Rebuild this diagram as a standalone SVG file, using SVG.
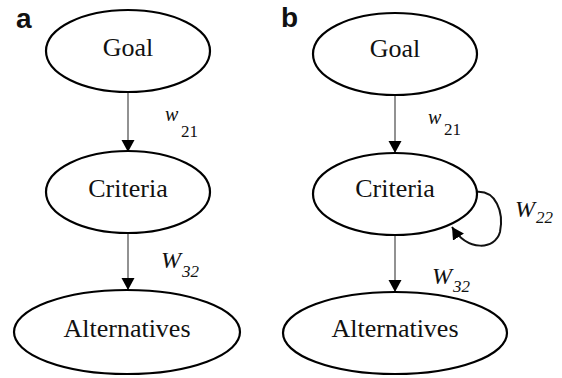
<svg xmlns="http://www.w3.org/2000/svg" width="562" height="378" viewBox="0 0 562 378">
<style>
.node ellipse{fill:#fff;stroke:#000;stroke-width:2.2}
.node text{font-family:"Liberation Serif","Times New Roman",serif;font-size:26px;text-anchor:middle;fill:#111}
.conn line,.conn path{stroke:#777;stroke-width:1.6;fill:none}
.conn path.loop{stroke:#111;stroke-width:2}
.lbl{font-family:"Liberation Serif","Times New Roman",serif;font-style:italic;fill:#111}
.sub{font-family:"Liberation Serif","Times New Roman",serif;font-style:normal;fill:#111}
.panel{font-family:"Liberation Sans",Arial,sans-serif;font-weight:bold;font-size:28px;fill:#111}
</style>
<defs>
<marker id="ah" markerWidth="14" markerHeight="14" refX="12" refY="6.5" orient="auto" markerUnits="userSpaceOnUse">
<path d="M0,0 L12,6.5 L0,13 Z" fill="#000"/>
</marker>
</defs>
<rect width="562" height="378" fill="#fff"/>
<text class="panel" x="16" y="28">a</text>
<text class="panel" x="281" y="27">b</text>
<g class="conn">
<line x1="128" y1="92" x2="128" y2="152" marker-end="url(#ah)"/>
<line x1="128" y1="233" x2="128" y2="290" marker-end="url(#ah)"/>
<line x1="395" y1="95" x2="395" y2="153" marker-end="url(#ah)"/>
<line x1="395" y1="235" x2="395" y2="292" marker-end="url(#ah)"/>
<path class="loop" d="M476 192 C496 190 504 212 500 232 C495 250 468 252 452 227" marker-end="url(#ah)"/>
</g>
<g id="goal-a" class="node"><ellipse cx="128" cy="51" rx="82" ry="41"/><text x="128" y="56">Goal</text></g>
<g id="criteria-a" class="node"><ellipse cx="128" cy="192" rx="82" ry="41"/><text x="128" y="197">Criteria</text></g>
<g id="alternatives-a" class="node"><ellipse cx="127" cy="332" rx="113" ry="42"/><text x="127" y="337">Alternatives</text></g>
<g id="goal-b" class="node"><ellipse cx="395" cy="54" rx="82" ry="41"/><text x="395" y="57">Goal</text></g>
<g id="criteria-b" class="node"><ellipse cx="395" cy="194" rx="82" ry="41"/><text x="395" y="197">Criteria</text></g>
<g id="alternatives-b" class="node"><ellipse cx="395" cy="333" rx="112" ry="41"/><text x="395" y="337">Alternatives</text></g>
<g id="labels">
<text class="lbl" x="165" y="121" font-size="20">w</text><text class="sub" x="181" y="137" font-size="17">21</text>
<text class="lbl" x="161" y="268" font-size="24">W</text><text class="lbl" x="182" y="277" font-size="17">32</text>
<text class="lbl" x="428" y="124" font-size="20">w</text><text class="sub" x="444" y="135" font-size="17">21</text>
<text class="lbl" x="515" y="217" font-size="24">W</text><text class="lbl" x="536" y="223" font-size="17">22</text>
<text class="lbl" x="432" y="284" font-size="24">W</text><text class="lbl" x="453" y="292" font-size="17">32</text>
</g>
</svg>
